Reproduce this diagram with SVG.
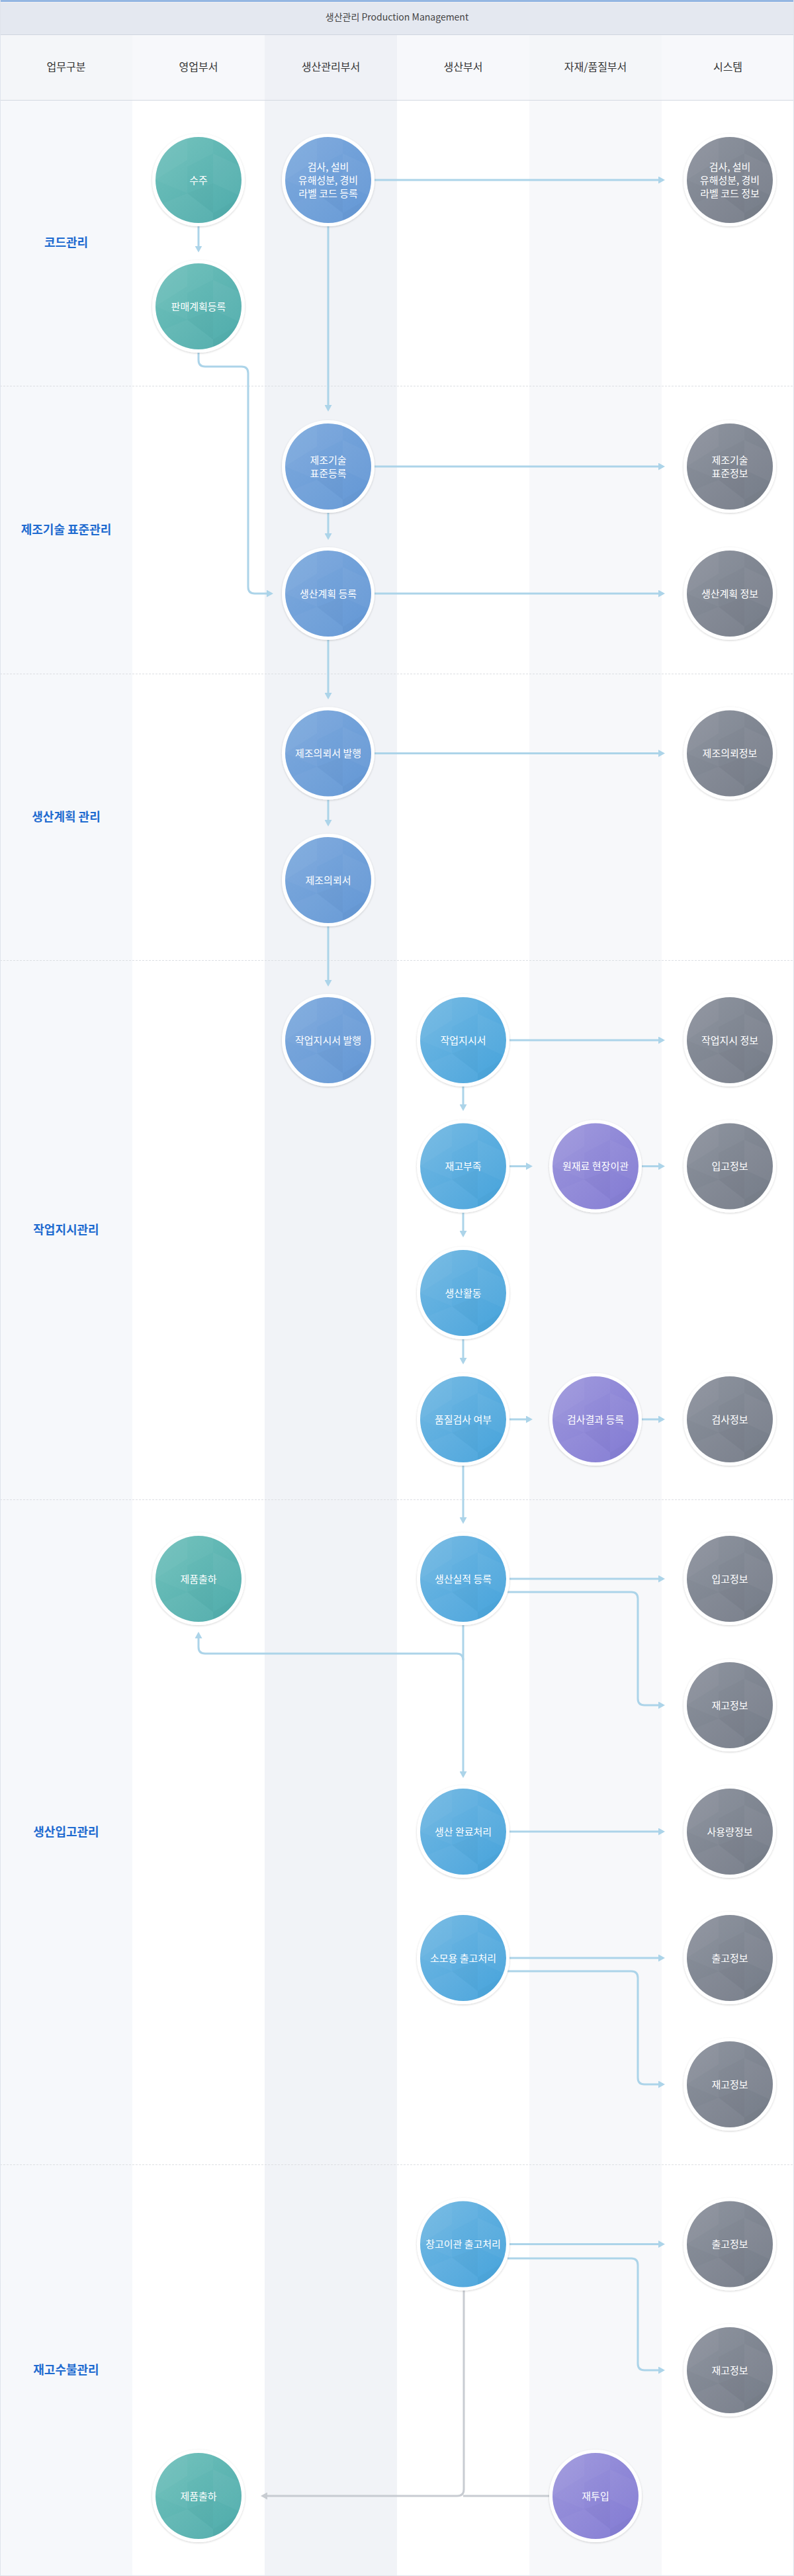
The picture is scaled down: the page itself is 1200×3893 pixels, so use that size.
<svg xmlns="http://www.w3.org/2000/svg" xmlns:xlink="http://www.w3.org/1999/xlink" width="1200" height="3893" viewBox="0 0 1200 3893">
<defs>
<style>
.hd{font-family:"Noto Sans CJK KR","Noto Sans",sans-serif;font-size:16px;fill:#333;text-anchor:middle}
.ttl{font-family:"Noto Sans CJK KR","Noto Sans",sans-serif;font-size:14px;fill:#444;text-anchor:middle}
.rl{font-family:"Noto Sans CJK KR","Noto Sans",sans-serif;font-size:18px;font-weight:bold;fill:#1f6bd0;text-anchor:middle}
.nt{font-family:"Noto Sans CJK KR","Noto Sans",sans-serif;font-size:15px;fill:#fff;text-anchor:middle}
.ring{fill:#fff;filter:url(#sh)}
.teal{fill:url(#gT)}
.blue{fill:url(#gB)}
.sky{fill:url(#gS)}
.purple{fill:url(#gP)}
.gray{fill:url(#gG)}
.c{fill:none;stroke:#acd4e9;stroke-width:3;marker-end:url(#arr)}
.cg{fill:none;stroke:#c8ccd2;stroke-width:3}
.sep{stroke:#dcdfe3;stroke-dasharray:3 2;stroke-width:1}
</style>
<filter id="sh" x="-20%" y="-20%" width="140%" height="140%"><feDropShadow dx="0" dy="1" stdDeviation="1.5" flood-color="#000" flood-opacity="0.18"/></filter>
<linearGradient id="gT" x1="0" y1="0" x2="1" y2="1"><stop offset="0" stop-color="#70c1bb"/><stop offset="1" stop-color="#4eabab"/></linearGradient>
<linearGradient id="gB" x1="0" y1="0" x2="1" y2="1"><stop offset="0" stop-color="#7eaadd"/><stop offset="1" stop-color="#6397d5"/></linearGradient>
<linearGradient id="gS" x1="0" y1="0" x2="1" y2="1"><stop offset="0" stop-color="#72b8e3"/><stop offset="1" stop-color="#46a3db"/></linearGradient>
<linearGradient id="gP" x1="0" y1="0" x2="1" y2="1"><stop offset="0" stop-color="#9d97dc"/><stop offset="1" stop-color="#827ad3"/></linearGradient>
<linearGradient id="gG" x1="0" y1="0" x2="1" y2="1"><stop offset="0" stop-color="#8b919c"/><stop offset="1" stop-color="#757c88"/></linearGradient>
<clipPath id="cc"><circle r="65"/></clipPath>
<g id="fx" clip-path="url(#cc)">
<polygon points="-65,-65 -17,-65 -17,-30 -65,0" fill="#fff" opacity="0.06"/>
<polygon points="-17,-65 22,-65 22,-40 -17,-20" fill="#fff" opacity="0.03"/>
<polygon points="-65,0 -17,-30 -17,20" fill="#fff" opacity="0.03"/>
<polygon points="22,-40 65,-20 65,25 22,5" fill="#fff" opacity="0.04"/>
<polygon points="-65,40 -17,20 -17,65 -65,65" fill="#fff" opacity="0.03"/>
<polygon points="-17,65 -17,20 22,50 22,65" fill="#fff" opacity="0.03"/>
<polygon points="-17,20 22,5 22,50" fill="#000" opacity="0.015"/>
<polygon points="22,50 65,25 65,65 22,65" fill="#000" opacity="0.015"/>
</g>
<marker id="arr" markerUnits="userSpaceOnUse" markerWidth="10" markerHeight="11" viewBox="0 0 10 11" refX="7" refY="5.5" orient="auto"><path d="M0,0 L10,5.5 L0,11 Z" fill="#acd4e9"/></marker>
<marker id="arrG" markerUnits="userSpaceOnUse" markerWidth="10" markerHeight="11" viewBox="0 0 10 11" refX="7" refY="5.5" orient="auto"><path d="M0,0 L10,5.5 L0,11 Z" fill="#c8ccd2"/></marker>
</defs>

<g id="background">
<rect x="0" y="0" width="1200" height="3893" fill="#fff"/>
<rect x="0" y="152" width="200" height="3741" fill="#f6f8fb"/>
<rect x="400" y="152" width="200" height="3741" fill="#f1f3f7"/>
<rect x="800" y="152" width="200" height="3741" fill="#f7f8fa"/>
<rect x="0" y="0" width="1200" height="52" fill="#e4e8f0"/>
<rect x="0" y="0" width="1200" height="2" fill="#1e6fd0"/>
<line x1="0" y1="52.5" x2="1200" y2="52.5" stroke="#cfd5df"/>
<rect x="0" y="53" width="1200" height="98" fill="#f7f8fb"/>
<rect x="0" y="53" width="200" height="98" fill="#f4f6f9"/>
<rect x="400" y="53" width="200" height="98" fill="#eff1f6"/>
<rect x="800" y="53" width="200" height="98" fill="#f4f6f9"/>
<line x1="0" y1="151.5" x2="1200" y2="151.5" stroke="#d4d9e1"/>
<line class="sep" x1="0" y1="583.5" x2="1200" y2="583.5"/>
<line class="sep" x1="0" y1="1018.5" x2="1200" y2="1018.5"/>
<line class="sep" x1="0" y1="1451.5" x2="1200" y2="1451.5"/>
<line class="sep" x1="0" y1="2266.5" x2="1200" y2="2266.5"/>
<line class="sep" x1="0" y1="3271.5" x2="1200" y2="3271.5"/>
<rect x="0.5" y="0.5" width="1199" height="3892" fill="none" stroke="#dfe4ec"/>
</g>

<g id="headers">
<text class="ttl" x="600" y="31">생산관리 Production Management</text>
<text class="hd" x="100" y="107">업무구분</text>
<text class="hd" x="300" y="107">영업부서</text>
<text class="hd" x="500" y="107">생산관리부서</text>
<text class="hd" x="700" y="107">생산부서</text>
<text class="hd" x="900" y="107">자재/품질부서</text>
<text class="hd" x="1100" y="107">시스템</text>
</g>

<g id="row-labels">
<text class="rl" x="100" y="373">코드관리</text>
<text class="rl" x="100" y="807">제조기술 표준관리</text>
<text class="rl" x="100" y="1241">생산계획 관리</text>
<text class="rl" x="100" y="1865">작업지시관리</text>
<text class="rl" x="100" y="2775">생산입고관리</text>
<text class="rl" x="100" y="3588">재고수불관리</text>
</g>

<g id="connectors">
<path class="c" d="M300,342 V378.5"/>
<path class="c" d="M300,533 V544 Q300,554 310,554 H365 Q375,554 375,564 V887 Q375,897 385,897 H410"/>
<path class="c" d="M566,272 H1002"/>
<path class="c" d="M496,342 V619"/>
<path class="c" d="M566,705 H1002"/>
<path class="c" d="M496,775 V813"/>
<path class="c" d="M566,897 H1002"/>
<path class="c" d="M496,967 V1054"/>
<path class="c" d="M566,1138.5 H1002"/>
<path class="c" d="M496,1208.5 V1246"/>
<path class="c" d="M496,1400 V1488"/>
<path class="c" d="M770,1572 H1002"/>
<path class="c" d="M700,1642 V1676"/>
<path class="c" d="M770,1762.5 H802"/>
<path class="c" d="M970,1762.5 H1002"/>
<path class="c" d="M700,1832.5 V1867"/>
<path class="c" d="M700,2024 V2059"/>
<path class="c" d="M770,2145 H802"/>
<path class="c" d="M970,2145 H1002"/>
<path class="c" d="M700,2215 V2300"/>
<path class="c" d="M770,2386 H1002"/>
<path class="c" d="M767,2406 H954 Q964,2406 964,2416 V2567 Q964,2577 974,2577 H1002"/>
<path class="c" d="M700,2456 V2684"/>
<path class="c" d="M700,2509 Q700,2499 690,2499 H310 Q300,2499 300,2489 V2469"/>
<path class="c" d="M770,2768 H1002"/>
<path class="c" d="M770,2959 H1002"/>
<path class="c" d="M767,2979 H954 Q964,2979 964,2989 V3140 Q964,3150 974,3150 H1002"/>
<path class="c" d="M770,3391.5 H1002"/>
<path class="c" d="M767,3413 H954 Q964,3413 964,3423 V3572 Q964,3582 974,3582 H1002"/>
<path class="cg" d="M830,3772 H700"/>
<path class="cg" marker-end="url(#arrG)" d="M701,3461 V3762 Q701,3772 691,3772 H397"/>
</g>

<g id="n-suju" transform="translate(300,272)"><circle class="ring" r="70"/><circle class="teal" r="65"/><use href="#fx"/><text class="nt" y="5.5">수주</text></g>
<g id="n-sales-plan" transform="translate(300,463)"><circle class="ring" r="70"/><circle class="teal" r="65"/><use href="#fx"/><text class="nt" y="5.5">판매계획등록</text></g>
<g id="n-ship-1" transform="translate(300,2386)"><circle class="ring" r="70"/><circle class="teal" r="65"/><use href="#fx"/><text class="nt" y="5.5">제품출하</text></g>
<g id="n-ship-2" transform="translate(300,3772)"><circle class="ring" r="70"/><circle class="teal" r="65"/><use href="#fx"/><text class="nt" y="5.5">제품출하</text></g>

<g id="n-code-reg" transform="translate(496,272)"><circle class="ring" r="70"/><circle class="blue" r="65"/><use href="#fx"/><text class="nt" y="-14.5">검사, 설비</text><text class="nt" y="5.5">유해성분, 경비</text><text class="nt" y="25.5">라벨 코드 등록</text></g>
<g id="n-tech-reg" transform="translate(496,705)"><circle class="ring" r="70"/><circle class="blue" r="65"/><use href="#fx"/><text class="nt" y="-4.5">제조기술</text><text class="nt" y="15.5">표준등록</text></g>
<g id="n-plan-reg" transform="translate(496,897)"><circle class="ring" r="70"/><circle class="blue" r="65"/><use href="#fx"/><text class="nt" y="5.5">생산계획 등록</text></g>
<g id="n-req-issue" transform="translate(496,1138.5)"><circle class="ring" r="70"/><circle class="blue" r="65"/><use href="#fx"/><text class="nt" y="5.5">제조의뢰서 발행</text></g>
<g id="n-req" transform="translate(496,1330)"><circle class="ring" r="70"/><circle class="blue" r="65"/><use href="#fx"/><text class="nt" y="5.5">제조의뢰서</text></g>
<g id="n-wo-issue" transform="translate(496,1572)"><circle class="ring" r="70"/><circle class="blue" r="65"/><use href="#fx"/><text class="nt" y="5.5">작업지시서 발행</text></g>

<g id="n-wo" transform="translate(700,1572)"><circle class="ring" r="70"/><circle class="sky" r="65"/><use href="#fx"/><text class="nt" y="5.5">작업지시서</text></g>
<g id="n-short" transform="translate(700,1762.5)"><circle class="ring" r="70"/><circle class="sky" r="65"/><use href="#fx"/><text class="nt" y="5.5">재고부족</text></g>
<g id="n-prod" transform="translate(700,1954)"><circle class="ring" r="70"/><circle class="sky" r="65"/><use href="#fx"/><text class="nt" y="5.5">생산활동</text></g>
<g id="n-qc" transform="translate(700,2145)"><circle class="ring" r="70"/><circle class="sky" r="65"/><use href="#fx"/><text class="nt" y="5.5">품질검사 여부</text></g>
<g id="n-result" transform="translate(700,2386)"><circle class="ring" r="70"/><circle class="sky" r="65"/><use href="#fx"/><text class="nt" y="5.5">생산실적 등록</text></g>
<g id="n-done" transform="translate(700,2768)"><circle class="ring" r="70"/><circle class="sky" r="65"/><use href="#fx"/><text class="nt" y="5.5">생산 완료처리</text></g>
<g id="n-consume" transform="translate(700,2959)"><circle class="ring" r="70"/><circle class="sky" r="65"/><use href="#fx"/><text class="nt" y="5.5">소모용 출고처리</text></g>
<g id="n-transfer" transform="translate(700,3391.5)"><circle class="ring" r="70"/><circle class="sky" r="65"/><use href="#fx"/><text class="nt" y="5.5">창고이관 출고처리</text></g>

<g id="n-move" transform="translate(900,1762.5)"><circle class="ring" r="70"/><circle class="purple" r="65"/><use href="#fx"/><text class="nt" y="5.5">원재료 현장이관</text></g>
<g id="n-qcreg" transform="translate(900,2145)"><circle class="ring" r="70"/><circle class="purple" r="65"/><use href="#fx"/><text class="nt" y="5.5">검사결과 등록</text></g>
<g id="n-reinput" transform="translate(900,3772)"><circle class="ring" r="70"/><circle class="purple" r="65"/><use href="#fx"/><text class="nt" y="5.5">재투입</text></g>

<g id="s-code" transform="translate(1103,272)"><circle class="ring" r="70"/><circle class="gray" r="65"/><use href="#fx"/><text class="nt" y="-14.5">검사, 설비</text><text class="nt" y="5.5">유해성분, 경비</text><text class="nt" y="25.5">라벨 코드 정보</text></g>
<g id="s-tech" transform="translate(1103,705)"><circle class="ring" r="70"/><circle class="gray" r="65"/><use href="#fx"/><text class="nt" y="-4.5">제조기술</text><text class="nt" y="15.5">표준정보</text></g>
<g id="s-plan" transform="translate(1103,897)"><circle class="ring" r="70"/><circle class="gray" r="65"/><use href="#fx"/><text class="nt" y="5.5">생산계획 정보</text></g>
<g id="s-req" transform="translate(1103,1138.5)"><circle class="ring" r="70"/><circle class="gray" r="65"/><use href="#fx"/><text class="nt" y="5.5">제조의뢰정보</text></g>
<g id="s-wo" transform="translate(1103,1572)"><circle class="ring" r="70"/><circle class="gray" r="65"/><use href="#fx"/><text class="nt" y="5.5">작업지시 정보</text></g>
<g id="s-in-1" transform="translate(1103,1762.5)"><circle class="ring" r="70"/><circle class="gray" r="65"/><use href="#fx"/><text class="nt" y="5.5">입고정보</text></g>
<g id="s-insp" transform="translate(1103,2145)"><circle class="ring" r="70"/><circle class="gray" r="65"/><use href="#fx"/><text class="nt" y="5.5">검사정보</text></g>
<g id="s-in-2" transform="translate(1103,2386)"><circle class="ring" r="70"/><circle class="gray" r="65"/><use href="#fx"/><text class="nt" y="5.5">입고정보</text></g>
<g id="s-stock-1" transform="translate(1103,2577)"><circle class="ring" r="70"/><circle class="gray" r="65"/><use href="#fx"/><text class="nt" y="5.5">재고정보</text></g>
<g id="s-usage" transform="translate(1103,2768)"><circle class="ring" r="70"/><circle class="gray" r="65"/><use href="#fx"/><text class="nt" y="5.5">사용량정보</text></g>
<g id="s-out-1" transform="translate(1103,2959)"><circle class="ring" r="70"/><circle class="gray" r="65"/><use href="#fx"/><text class="nt" y="5.5">출고정보</text></g>
<g id="s-stock-2" transform="translate(1103,3150)"><circle class="ring" r="70"/><circle class="gray" r="65"/><use href="#fx"/><text class="nt" y="5.5">재고정보</text></g>
<g id="s-out-2" transform="translate(1103,3391.5)"><circle class="ring" r="70"/><circle class="gray" r="65"/><use href="#fx"/><text class="nt" y="5.5">출고정보</text></g>
<g id="s-stock-3" transform="translate(1103,3582)"><circle class="ring" r="70"/><circle class="gray" r="65"/><use href="#fx"/><text class="nt" y="5.5">재고정보</text></g>
</svg>
